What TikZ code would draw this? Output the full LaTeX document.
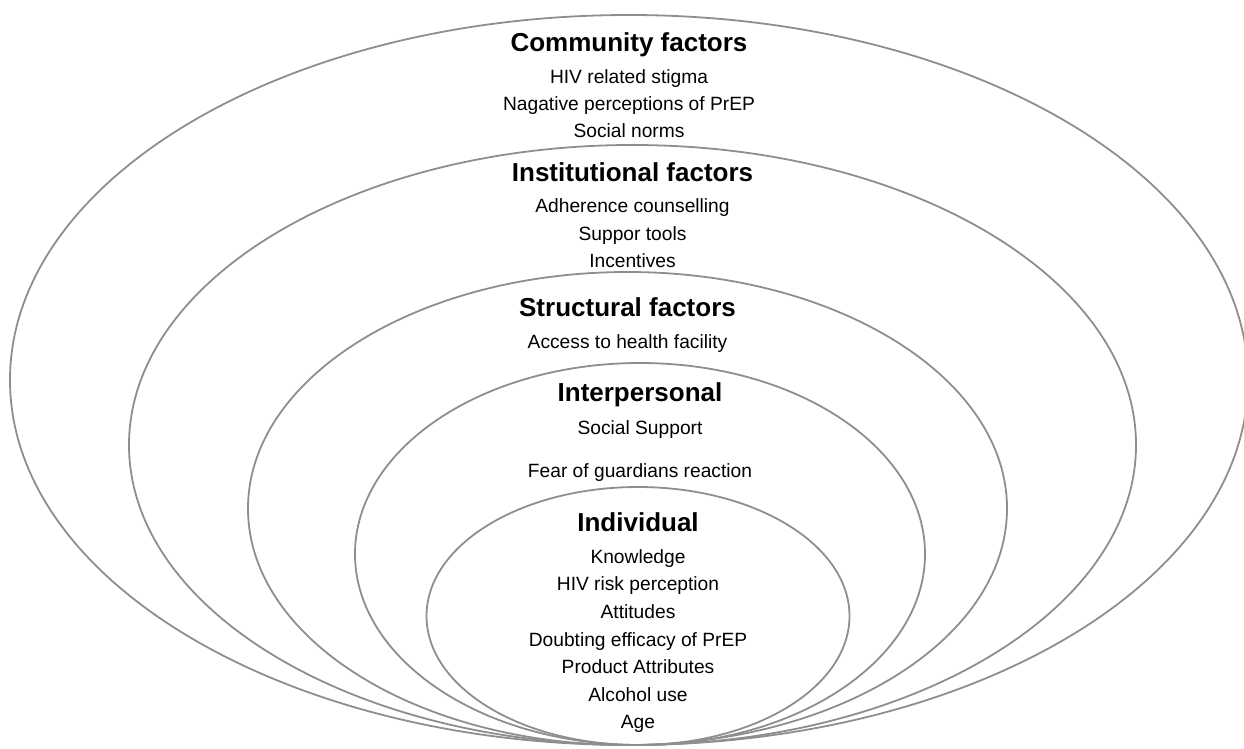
\documentclass[tikz,border=0pt]{standalone}
\usepackage{fontspec}
\setmainfont{Liberation Sans}
\definecolor{ringgray}{HTML}{8E8E8E}
\begin{document}
\begin{tikzpicture}[x=1pt,y=-1pt,
  ring/.style={draw=ringgray, line width=1.8pt},
  head/.style={font=\fontsize{26}{30}\selectfont\bfseries, inner sep=0pt, anchor=base},
  item/.style={font=\fontsize{19.2}{22}\selectfont, inner sep=0pt, anchor=base}]
\useasboundingbox (0,0) rectangle (1244,749);
\clip (0,0) rectangle (1244,749);
% rings
\draw[ring] (629,380) ellipse [x radius=619, y radius=365];
\draw[ring] (632.5,445) ellipse [x radius=503.5, y radius=300];
\draw[ring] (627.5,508.5) ellipse [x radius=379.5, y radius=236.5];
\draw[ring] (640,554) ellipse [x radius=285, y radius=191];
\draw[ring] (638,616) ellipse [x radius=211.5, y radius=129];
% community
\node[head] (comm) at (629,51.5) {Community factors};
\node[item] (c1) at (629,84) {HIV related stigma};
\node[item] (c2) at (629,111) {Nagative perceptions of PrEP};
\node[item] (c3) at (629,138) {Social norms};
% institutional
\node[head] (inst) at (632.5,181.5) {Institutional factors};
\node[item] (i1) at (632.5,212) {Adherence counselling};
\node[item] (i2) at (632.5,240) {Suppor tools};
\node[item] (i3) at (632.5,267) {Incentives};
% structural
\node[head] (struct) at (627.5,316.5) {Structural factors};
\node[item] (s1) at (627.5,348) {Access to health facility};
% interpersonal
\node[head] (inter) at (640,401.5) {Interpersonal};
\node[item] (p1) at (640,434) {Social Support};
\node[item] (p2) at (640,477) {Fear of guardians reaction};
% individual
\node[head] (indiv) at (638,531.5) {Individual};
\node[item] (d1) at (638,563) {Knowledge};
\node[item] (d2) at (638,590) {HIV risk perception};
\node[item] (d3) at (638,618) {Attitudes};
\node[item] (d4) at (638,646) {Doubting efficacy of PrEP};
\node[item] (d5) at (638,673) {Product Attributes};
\node[item] (d6) at (638,701) {Alcohol use};
\node[item] (d7) at (638,728) {Age};
\end{tikzpicture}
\end{document}
